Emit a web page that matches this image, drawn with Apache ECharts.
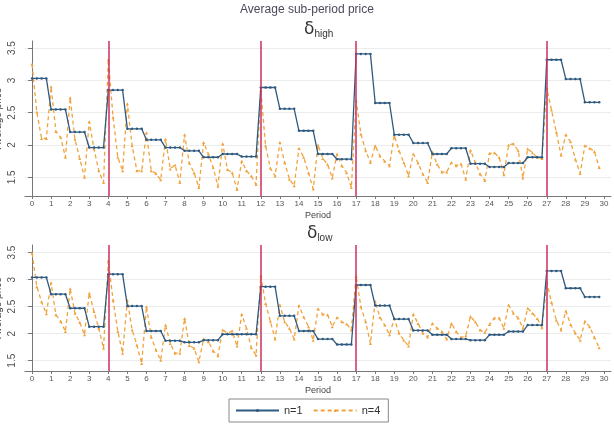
<!DOCTYPE html>
<html>
<head>
<meta charset="utf-8">
<script src="https://cdn.jsdelivr.net/npm/echarts@6/dist/echarts.min.js"></script>
<style>
  html, body { margin: 0; padding: 0; background: #fff; }
  #main { width: 614px; height: 424px; }
</style>
</head>
<body>
<div id="main"></div>
<script>
// periods with a regime change (red lines)
const breaks = [4, 12, 17, 27]
const periodTicks = [0,1,2,3,4,5,6,7,8,9,10,11,12,13,14,15,16,17,18,19,20,21,22,23,24,25,26,27,28,29,30]
const priceTicks = [1.5, 2, 2.5, 3, 3.5]

// delta high, n=1 : one price per period
const highN1 = [3.03,2.55,2.20,1.96,2.85,2.25,2.08,1.96,1.91,1.81,1.86,1.82,2.89,2.56,2.22,1.86,1.78,3.41,2.65,2.16,2.03,1.86,1.95,1.71,1.66,1.72,1.81,3.32,3.02,2.66]
// delta high, n=4 : four sub-period prices per period
const highN4 = [
  3.25,2.51,2.10,2.10, 2.90,2.21,2.12,1.81, 2.73,2.09,1.79,1.50, 2.36,1.94,1.60,1.42,
  3.32,2.43,1.81,1.60, 2.64,1.99,1.60,1.60, 2.19,1.60,1.56,1.46, 2.09,1.63,1.69,1.42,
  2.16,1.72,1.57,1.34, 2.04,1.86,1.65,1.36, 2.02,1.62,1.57,1.31, 1.75,1.60,1.52,1.39,
  2.85,1.99,1.64,1.52, 2.04,1.73,1.47,1.37, 1.95,1.81,1.57,1.32, 2.00,1.79,1.70,1.49,
  1.86,1.68,1.57,1.34, 2.69,2.17,1.91,1.73, 1.99,1.83,1.75,1.68, 2.15,1.91,1.73,1.52,
  1.86,1.72,1.55,1.42, 1.89,1.70,1.58,1.58, 1.73,1.68,1.71,1.47, 1.92,1.73,1.55,1.45,
  1.87,1.88,1.81,1.54, 2.00,2.02,1.91,1.49, 1.94,1.88,1.81,1.79, 2.88,2.54,2.20,1.84,
  2.16,2.05,1.78,1.56, 1.99,1.95,1.90,1.65
]
// delta low, n=1
const lowN1 = [3.04,2.73,2.47,2.13,3.10,2.51,2.05,1.87,1.84,1.88,1.99,1.99,2.87,2.33,2.05,1.90,1.80,2.90,2.52,2.27,2.06,1.98,1.90,1.88,1.98,2.04,2.16,3.16,2.84,2.68]
// delta low, n=4
const lowN4 = [
  3.49,2.87,2.59,2.37, 2.94,2.35,2.23,2.04, 2.83,2.38,2.21,1.98, 2.75,2.41,2.10,1.73,
  3.35,2.62,2.04,1.64, 2.62,2.07,1.79,1.45, 2.50,1.94,1.70,1.51, 2.16,1.82,1.64,1.64,
  2.28,1.78,1.73,1.48, 1.90,1.85,1.68,1.59, 2.07,2.01,2.05,1.77, 2.36,2.10,1.74,1.60,
  3.07,2.56,2.23,1.90, 2.53,2.22,2.10,1.90, 2.52,2.31,2.13,1.88, 2.46,2.36,2.35,2.13,
  2.30,2.22,2.18,2.07, 3.06,2.50,2.22,1.82, 2.60,2.30,2.16,1.98, 2.28,2.01,1.88,1.77,
  2.36,2.19,2.01,1.94, 2.19,2.10,2.04,1.90, 2.19,2.04,1.93,1.96, 2.32,2.22,2.07,2.02,
  2.17,2.29,2.29,2.10, 2.53,2.38,2.29,2.10, 2.47,2.38,2.28,2.11, 2.96,2.58,2.25,2.07,
  2.42,2.17,2.01,1.88, 2.23,2.13,1.93,1.74
]

const FONT = 'Liberation Sans'
const BLUE = '#2f5a80'
const ORANGE = '#f0a33c'
const RED = '#cc2f5c'

// n=1 price holds for the 4 sub-periods of a period
function perPeriod(arr){
  const out = []
  arr.forEach((v,p)=>{
    for(let q=0;q<4;q++) out.push([p + q/4, v])
  })
  return out
}
function perSub(arr){
  return arr.map((v,i)=>[i/4, v])
}

function xAxisOpt(gi){
  return {
    type:'value', gridIndex:gi, min:-0.37, max:30.37,
    name:'Period', nameLocation:'middle', nameGap:15,
    nameTextStyle:{fontSize:9, color:'#444', fontFamily:FONT},
    axisLine:{lineStyle:{color:'#777'}},
    axisTick:{length:3, customValues:periodTicks, lineStyle:{color:'#777'}},
    axisLabel:{fontSize:8, color:'#555', margin:4, customValues:periodTicks, fontFamily:FONT},
    splitLine:{show:false}
  }
}
function yAxisOpt(gi, min, max){
  return {
    type:'value', gridIndex:gi, min:min, max:max,
    name:'Average price', nameLocation:'middle', nameGap:22, nameMoveOverlap:false,
    nameTextStyle:{fontSize:10, color:'#444', fontFamily:FONT},
    axisLine:{show:true, lineStyle:{color:'#777'}},
    axisTick:{show:true, length:4, customValues:priceTicks, lineStyle:{color:'#777'}},
    axisLabel:{fontSize:10, color:'#555', margin:8, rotate:90, customValues:priceTicks, fontFamily:FONT},
    splitLine:{show:true, lineStyle:{color:'#ececec', width:1}}
  }
}
function breakLines(){
  return {
    silent:true, symbol:'none', label:{show:false},
    lineStyle:{color:RED, width:1.5, type:'solid'},
    data:breaks.map(b=>({xAxis:b}))
  }
}
function n1Series(gi, arr){
  return {
    name:'n=1', type:'line', xAxisIndex:gi, yAxisIndex:gi,
    data:perPeriod(arr), symbol:'circle', symbolSize:2.5,
    lineStyle:{color:BLUE, width:1.3}, itemStyle:{color:BLUE},
    markLine:breakLines(), z:3
  }
}
function n4Series(gi, arr){
  return {
    name:'n=4', type:'line', xAxisIndex:gi, yAxisIndex:gi,
    data:perSub(arr), symbol:'triangle', symbolSize:3,
    lineStyle:{color:ORANGE, width:1.3, type:[4,3]}, itemStyle:{color:ORANGE},
    z:2
  }
}

const subTitleRich = {
  d:{fontSize:17, fontWeight:'normal', color:'#333', fontFamily:'DejaVu Sans', padding:[0,0,2,0]},
  s:{fontSize:10, fontWeight:'normal', color:'#333', fontFamily:FONT, padding:[8,0,0,0]}
}

const chart = echarts.init(document.getElementById('main'))
chart.setOption({
  animation:false,
  backgroundColor:'#fff',
  textStyle:{fontFamily:FONT},
  title:[
    {text:'Average sub-period price', left:'center', top:4, padding:0,
     textStyle:{fontSize:12, fontWeight:'normal', color:'#4a4a5a', fontFamily:FONT}},
    {text:'{d|δ}{s|high}', left:304, top:21, padding:0,
     textStyle:{fontWeight:'normal', rich:subTitleRich}},
    {text:'{d|δ}{s|low}', left:307, top:225, padding:0,
     textStyle:{fontWeight:'normal', rich:subTitleRich}}
  ],
  grid:[
    {left:25, right:3, top:41, height:155, containLabel:false, outerBoundsMode:'none'},
    {left:25, right:3, top:245, height:126, containLabel:false, outerBoundsMode:'none'}
  ],
  xAxis:[xAxisOpt(0), xAxisOpt(1)],
  yAxis:[yAxisOpt(0, 1.21, 3.61), yAxisOpt(1, 1.31, 3.64)],
  legend:{
    data:['n=1','n=4'], left:229, top:399, padding:[6,8,6,6],
    borderColor:'#888', borderWidth:1, itemWidth:43, itemHeight:4, itemGap:10,
    textStyle:{fontSize:11, color:'#333', fontFamily:FONT}
  },
  series:[
    n1Series(0, highN1), n4Series(0, highN4),
    n1Series(1, lowN1), n4Series(1, lowN4)
  ]
})
</script>
</body>
</html>
